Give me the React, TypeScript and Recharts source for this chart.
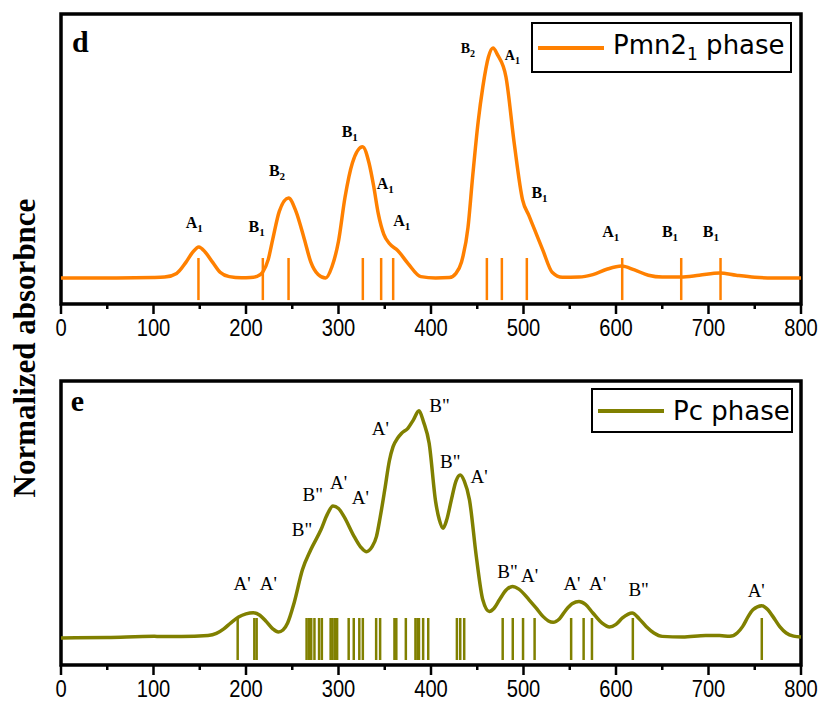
import React from 'react'
import {
  LineChart, Line, XAxis, YAxis, ReferenceLine, ReferenceDot, ReferenceArea, Legend,
} from 'recharts'

// Pmn2_1 phase simulated spectrum: [wavenumber, normalized absorbance]
const pmnCurve: [number, number][] = [
  [0, 0], [60, 0], [100, 0.002], [112, 0.004], [125, 0.02], [135, 0.068], [142, 0.11],
  [149, 0.135], [156, 0.112], [164, 0.068], [172, 0.025], [182, 0.006], [195, 0.001],
  [205, 0.002], [212, 0.007], [218, 0.025], [224, 0.08], [229, 0.17], [236, 0.29],
  [246, 0.348], [254, 0.29], [263, 0.17], [270, 0.07], [278, 0.015], [286, 0],
  [293, 0.05], [300, 0.16], [307, 0.35], [315, 0.5], [326, 0.571], [333, 0.5],
  [338, 0.4], [343, 0.28], [349, 0.19], [355, 0.15], [364, 0.12], [375, 0.064],
  [389, 0.006], [405, 0], [420, 0.002], [427, 0.02], [433, 0.07], [440, 0.22],
  [445, 0.44], [451, 0.68], [456, 0.83], [462, 0.96], [467, 1.0], [472, 0.97],
  [481, 0.875], [490, 0.585], [499, 0.34], [506, 0.27], [512, 0.21], [521, 0.12],
  [531, 0.025], [542, 0.003], [560, 0.004], [575, 0.015], [590, 0.038], [606, 0.052],
  [620, 0.035], [635, 0.012], [650, 0.004], [670, 0.004], [690, 0.012], [712, 0.022],
  [730, 0.012], [750, 0.003], [770, 0], [800, 0],
]

// Pc phase simulated spectrum
const pcCurve: [number, number][] = [
  [0, 0], [50, 0.002], [101, 0.007], [130, 0.006], [159, 0.011], [168, 0.02],
  [176, 0.04], [184, 0.068], [192, 0.092], [200, 0.106], [208, 0.111], [215, 0.1],
  [222, 0.072], [229, 0.04], [235, 0.026], [240, 0.035], [245, 0.066], [252, 0.154],
  [261, 0.3], [270, 0.388], [281, 0.476], [288, 0.545], [294, 0.581], [300, 0.57],
  [306, 0.534], [317, 0.446], [324, 0.4], [330, 0.38], [336, 0.4], [341, 0.446],
  [345, 0.53], [350, 0.652], [355, 0.78], [359, 0.842], [364, 0.88], [368, 0.9],
  [375, 0.923], [381, 0.96], [387, 1.0], [392, 0.95], [398, 0.857], [405, 0.6],
  [409, 0.52], [413, 0.483], [417, 0.52], [422, 0.608], [427, 0.69], [431.6, 0.717],
  [436, 0.69], [441.6, 0.608], [449, 0.358], [456, 0.168], [463, 0.117], [468, 0.13],
  [474, 0.168], [481, 0.21], [488, 0.227], [495, 0.215], [506, 0.168], [514, 0.13],
  [521, 0.095], [527, 0.075], [532, 0.069], [539, 0.085], [546, 0.124], [553, 0.152],
  [560, 0.161], [567, 0.148], [575, 0.11], [585, 0.065], [593, 0.048], [600, 0.06],
  [607, 0.088], [617.5, 0.11], [625, 0.085], [632.6, 0.051], [641, 0.022], [650, 0.007],
  [672, 0.004], [697, 0.011], [712, 0.011], [723, 0.007], [731, 0.022], [737, 0.051],
  [743, 0.095], [748, 0.124], [757.6, 0.142], [764, 0.125], [769.5, 0.095], [777, 0.05],
  [784, 0.022], [792, 0.008], [800, 0.004],
]

// calculated mode positions (stick spectrum)
const pmnModes = [148.6, 218.2, 246, 326.3, 346.1, 359.1, 460.4, 476.6, 503.6, 606.7, 670.5, 713]
const pcModes = [
  191, 209, 211.5, 265.5, 268, 270.5, 274, 279, 282, 291.5, 293.5, 296, 298.5,
  311, 316.5, 322.5, 326.3, 340.7, 345, 360.5, 362.5, 372.8, 383.2, 385.5, 387,
  391.5, 397, 428, 431.6, 435.9, 477.5, 488.4, 499.5, 512, 551.5, 565, 574, 618.2, 757.6,
]

// irreducible representation tags: x, baseline y, symbol, subscript
const pmnTags: [number, number, string, string][] = [
  [144, 0.217, 'A', '1'], [211.4, 0.201, 'B', '1'], [233.5, 0.445, 'B', '2'],
  [312.2, 0.614, 'B', '1'], [350.6, 0.387, 'A', '1'], [368.3, 0.226, 'A', '1'],
  [439.8, 0.977, 'B', '2'], [488, 0.948, 'A', '1'], [517.3, 0.347, 'B', '1'],
  [594.3, 0.18, 'A', '1'], [658.4, 0.18, 'B', '1'], [702.5, 0.18, 'B', '1'],
]
const pcTags: [number, number, string][] = [
  [195.7, 0.211, "A'"], [224.1, 0.211, "A'"], [260.5, 0.45, 'B"'], [272.2, 0.604, 'B"'],
  [300.2, 0.654, "A'"], [323.6, 0.59, "A'"], [345.2, 0.893, "A'"], [409.2, 0.994, 'B"'],
  [420.9, 0.747, 'B"'], [451.9, 0.68, "A'"], [482.7, 0.263, 'B"'], [506.5, 0.245, "A'"],
  [552.4, 0.211, "A'"], [580, 0.211, "A'"], [624.5, 0.186, 'B"'], [751.6, 0.182, "A'"],
]

const xTicks = [0, 50, 100, 150, 200, 250, 300, 350, 400, 450, 500, 550, 600, 650, 700, 750, 800]

const ORANGE = '#FF8000'
const OLIVE = '#808000'
const SERIF = '"Liberation Serif", "Times New Roman", serif'
const SANS = '"DejaVu Sans", sans-serif'

const toRows = (pts: [number, number][]) => pts.map(([x, y]) => ({ x, y }))

// bottom ticks hang outside the frame; labels are squeezed to look like a narrow face
const FrameTick = (props: any) => {
  const { x, y, payload } = props
  const major = payload.value % 100 === 0
  return (
    <g>
      <line x1={x} x2={x} y1={y} y2={y + (major ? 10 : 5)} stroke="#000" strokeWidth={2.5} />
      {major && (
        <text x={0} y={0} transform={`translate(${x} ${y + 32}) scale(0.84 1)`} textAnchor="middle"
          fontSize={24} fill="#000" fontFamily='"Liberation Sans", Arial, sans-serif'>
          {payload.value}
        </text>
      )}
    </g>
  )
}

const LegendBox = ({ color, width, height, children }: any) => (
  <div style={{
    width, height, boxSizing: 'border-box', border: '2.5px solid #000', background: '#fff',
    display: 'flex', alignItems: 'center', paddingLeft: 5, fontFamily: SANS, fontSize: 26, color: '#000',
  }}>
    <svg width={66} height={6} style={{ marginRight: 9 }}>
      <line x1={0} x2={66} y1={3} y2={3} stroke={color} strokeWidth={4} />
    </svg>
    <span style={{ whiteSpace: 'nowrap' }}>{children}</span>
  </div>
)

const panelLetter = (letter: string) => (p: any) => (
  <text x={p.cx} y={p.cy} textAnchor="middle" fontFamily={SERIF} fontWeight="bold" fontSize={30}>
    {letter}
  </text>
)

export default function App() {
  const pmnData = toRows(pmnCurve)
  const pcData = toRows(pcCurve)
  const topDomain = [-0.113, 1.148]
  const botDomain = [-0.119, 1.131]

  return (
    <div style={{ position: 'absolute', left: 0, top: 0, width: 825, height: 704, background: '#fff' }}>
      <svg width={60} height={704} style={{ position: 'absolute', left: 0, top: 0 }}>
        <text x={35} y={348} transform="rotate(-90 35 348)" textAnchor="middle"
          fontFamily={SERIF} fontWeight="bold" fontSize={31}>
          Normalized absorbnce
        </text>
      </svg>

      <div style={{ position: 'absolute', left: 0, top: 0 }}>
        <LineChart width={825} height={352} data={pmnData} margin={{ top: 14, right: 24, bottom: 0, left: 61 }}>
          <XAxis dataKey="x" type="number" domain={[0, 800]} ticks={xTicks} interval={0}
            height={48} tickSize={0} tickMargin={0} tickLine={false} axisLine={false} tick={<FrameTick />} />
          <YAxis type="number" domain={topDomain} hide />
          {pmnModes.map((m) => (
            <ReferenceLine key={m} segment={[{ x: m, y: -0.096 }, { x: m, y: 0.087 }]}
              stroke={ORANGE} strokeWidth={2.5} />
          ))}
          <Line dataKey="y" type="monotone" stroke={ORANGE} strokeWidth={3.5} dot={false}
            activeDot={false} isAnimationActive={false} name="Pmn2_1 phase" />
          {pmnTags.map(([x, y, s, sub], i) => (
            <ReferenceDot key={i} x={x} y={y} r={0}
              shape={(p: any) => (
                <text x={p.cx} y={p.cy} textAnchor="middle" fontFamily={SERIF} fontWeight="bold"
                  fontSize={y > 0.9 ? 14 : 16} fill="#000">
                  {s}<tspan fontSize={y > 0.9 ? 10 : 11} dy={4}>{sub}</tspan>
                </text>
              )} />
          ))}
          <ReferenceDot x={21} y={0.984} r={0} shape={panelLetter('d')} />
          <ReferenceArea x1={0} x2={800} y1={topDomain[0]} y2={topDomain[1]}
            fill="none" stroke="#000" strokeWidth={3.5} />
          <Legend layout="horizontal" verticalAlign="middle" align="center"
            wrapperStyle={{ left: 531, top: 22, width: 261 }}
            content={() => (
              <LegendBox color={ORANGE} width={261} height={51}>
                Pmn2<sub style={{ fontSize: 17 }}>1</sub> phase
              </LegendBox>
            )} />
        </LineChart>
      </div>

      <div style={{ position: 'absolute', left: 0, top: 352 }}>
        <LineChart width={825} height={352} data={pcData} margin={{ top: 29, right: 24, bottom: 0, left: 61 }}>
          <XAxis dataKey="x" type="number" domain={[0, 800]} ticks={xTicks} interval={0}
            height={39} tickSize={0} tickMargin={0} tickLine={false} axisLine={false} tick={<FrameTick />} />
          <YAxis type="number" domain={botDomain} hide />
          {pcModes.map((m) => (
            <ReferenceLine key={m} segment={[{ x: m, y: -0.097 }, { x: m, y: 0.088 }]}
              stroke={OLIVE} strokeWidth={2.5} />
          ))}
          <Line dataKey="y" type="monotone" stroke={OLIVE} strokeWidth={3.5} dot={false}
            activeDot={false} isAnimationActive={false} name="Pc phase" />
          {pcTags.map(([x, y, s], i) => (
            <ReferenceDot key={i} x={x} y={y} r={0}
              shape={(p: any) => (
                <text x={p.cx} y={p.cy} textAnchor="middle" fontFamily={SERIF} fontSize={19} fill="#000">
                  {s}
                </text>
              )} />
          ))}
          <ReferenceDot x={17.8} y={0.999} r={0} shape={panelLetter('e')} />
          <ReferenceArea x1={0} x2={800} y1={botDomain[0]} y2={botDomain[1]}
            fill="none" stroke="#000" strokeWidth={3.5} />
          <Legend layout="horizontal" verticalAlign="middle" align="center"
            wrapperStyle={{ left: 591, top: 36, width: 202 }}
            content={() => (
              <LegendBox color={OLIVE} width={202} height={45}>Pc phase</LegendBox>
            )} />
        </LineChart>
      </div>
    </div>
  )
}
